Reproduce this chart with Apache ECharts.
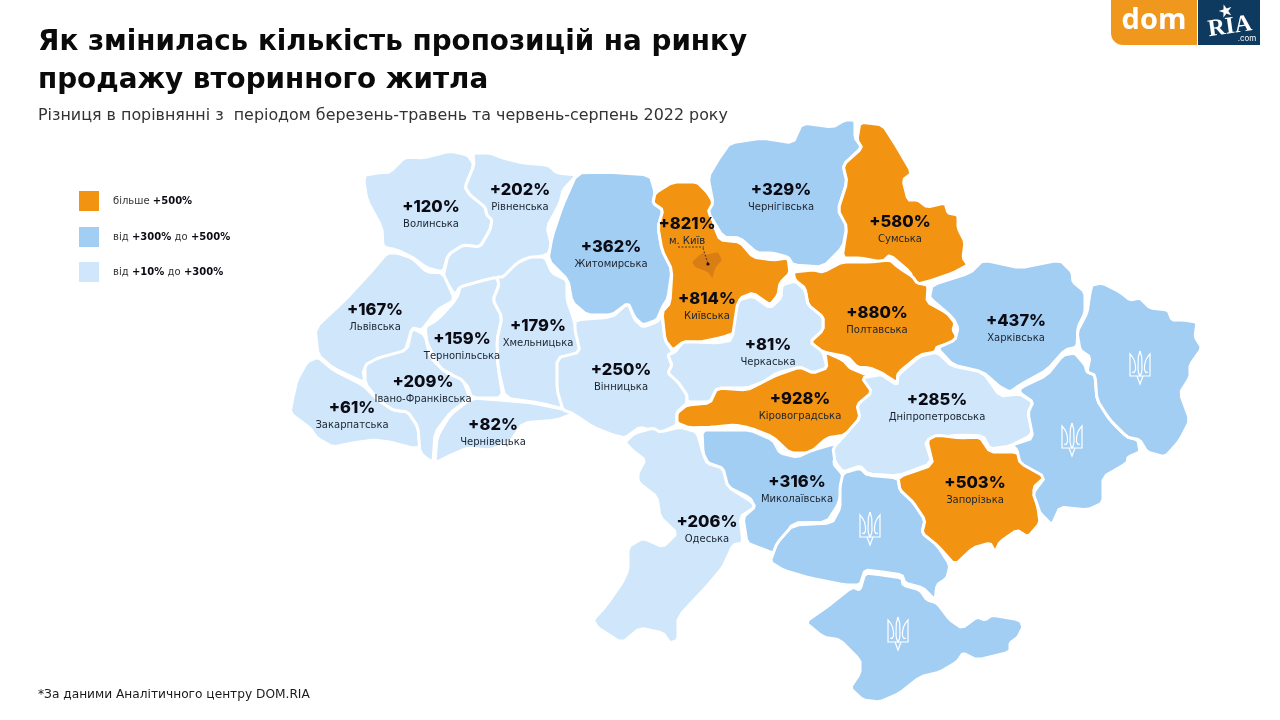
<!DOCTYPE html>
<html><head><meta charset="utf-8">
<style>html,body{margin:0;padding:0;background:#fff}#c{width:1280px;height:720px}</style>
<script src="https://cdn.jsdelivr.net/npm/echarts@6/dist/echarts.min.js"></script>
</head><body><div id="c"></div>
<script>
// ---- chart values ----
const regionNames = ['Волинська','Рівненська','Житомирська','Чернігівська','Київська','Сумська','Львівська','Тернопільська','Хмельницька','Вінницька','Черкаська','Полтавська','Харківська','Дніпропетровська','Кіровоградська','Івано-Франківська','Закарпатська','Чернівецька','Одеська','Миколаївська','Запорізька','м. Київ'];
const regionValues = [120,202,362,329,814,580,167,159,179,250,81,880,437,285,928,209,61,82,206,316,503,821];
const noDataRegions = ['Луганська','Донецька','Херсонська','АР Крим'];
const legendLabels = ['{a|більше} {b|+500%}','{a|від} {b|+300%} {a|до} {b|+500%}','{a|від} {b|+10%} {a|до} {b|+300%}'];
const titleText = 'Як змінилась кількість пропозицій на ринку\nпродажу вторинного житла';
const subtitleText = 'Різниця в порівнянні з  періодом березень-травень та червень-серпень 2022 року';
const footnoteText = '*За даними Аналітичного центру DOM.RIA';

// ---- map geometry (map units) ----
const outlines = {
'Волинська':[[364,182],[365,175],[378,173],[390,172],[405,157],[423,158],[450,151],[468,155],[474,165],[465,187],[470,195],[485,207],[487,215],[492,220],[490,230],[480,247],[463,245],[448,255],[443,272],[427,268],[412,257],[397,250],[383,247],[382,228],[367,200]],
'Рівненська':[[473,153],[490,153],[503,158],[523,163],[548,165],[557,173],[577,175],[563,190],[560,203],[547,227],[552,247],[547,255],[520,260],[512,277],[498,278],[477,283],[460,287],[455,295],[443,277],[448,255],[463,245],[480,247],[490,230],[492,220],[487,215],[485,207],[470,195],[465,187],[474,165]],
'Львівська':[[387,253],[397,253],[412,258],[427,272],[443,273],[455,300],[437,310],[422,330],[412,328],[405,352],[378,358],[363,370],[365,383],[333,368],[318,355],[315,328],[345,300],[370,273]],
'Тернопільська':[[460,287],[477,282],[497,277],[499,285],[493,300],[502,317],[497,340],[498,367],[503,398],[472,398],[467,385],[453,375],[440,368],[427,343],[425,327],[437,320],[453,303],[458,295]],
'Хмельницька':[[497,277],[503,277],[517,263],[530,257],[545,257],[552,273],[567,280],[567,300],[573,317],[583,352],[560,363],[558,387],[567,410],[540,403],[505,398],[498,367],[497,340],[502,317],[493,300],[499,285]],
'Закарпатська':[[318,357],[333,370],[363,385],[378,400],[393,410],[408,412],[418,427],[420,447],[413,448],[390,442],[373,440],[353,443],[333,447],[317,438],[310,428],[290,413],[293,397],[297,380],[307,362]],
'Івано-Франківська':[[365,365],[378,358],[407,350],[412,328],[425,335],[430,357],[445,372],[463,380],[470,398],[450,413],[435,433],[433,463],[420,453],[418,427],[408,412],[393,410],[378,400],[365,383]],
'Чернівецька':[[472,398],[500,400],[533,403],[567,410],[577,412],[557,420],[523,423],[510,442],[490,450],[467,448],[447,457],[435,463],[437,437],[450,415]],
'Житомирська':[[577,173],[607,172],[650,175],[655,192],[653,203],[663,210],[658,227],[662,250],[672,270],[668,298],[662,308],[657,320],[643,325],[635,318],[628,303],[612,315],[587,315],[572,302],[568,280],[548,260],[552,237],[562,207]],
'Вінницька':[[575,320],[612,317],[628,303],[635,320],[643,327],[657,322],[662,315],[665,340],[673,352],[668,355],[672,365],[668,373],[678,382],[687,395],[687,403],[677,412],[677,425],[660,433],[640,427],[625,438],[613,435],[593,427],[572,413],[563,410],[557,390],[557,358],[580,352],[575,330]],
'Київська':[[655,193],[673,182],[697,182],[707,192],[715,205],[713,223],[720,240],[740,242],[753,257],[773,260],[788,258],[790,273],[780,283],[778,295],[770,305],[753,293],[740,298],[735,333],[720,338],[700,342],[683,342],[673,350],[665,340],[662,312],[670,303],[672,270],[662,250],[658,227],[663,210],[653,203]],
'Чернігівська':[[730,143],[762,138],[793,143],[802,123],[833,127],[845,120],[855,120],[855,138],[862,147],[843,165],[847,182],[838,210],[847,225],[843,247],[823,267],[793,265],[788,257],[772,253],[757,253],[740,238],[723,237],[708,212],[713,203],[708,177],[720,157]],
'Сумська':[[860,122],[883,125],[897,147],[912,173],[903,180],[908,200],[918,200],[927,207],[945,203],[948,213],[958,215],[958,228],[965,242],[963,258],[968,265],[953,273],[933,280],[915,285],[910,272],[890,255],[882,262],[860,258],[842,258],[847,227],[838,210],[847,182],[843,165],[862,148],[857,140]],
'Полтавська':[[793,272],[813,270],[823,272],[842,262],[870,262],[890,260],[898,267],[913,277],[917,283],[928,285],[927,302],[947,313],[955,323],[953,330],[957,337],[952,343],[937,347],[935,352],[920,355],[898,373],[897,383],[882,373],[870,368],[857,367],[848,357],[823,352],[810,342],[823,330],[823,317],[808,305],[805,288],[795,280]],
'Черкаська':[[738,300],[753,296],[770,308],[781,298],[782,285],[795,281],[805,290],[808,305],[823,317],[823,330],[810,342],[823,352],[827,368],[812,373],[800,367],[777,373],[763,382],[747,388],[717,388],[710,402],[687,402],[687,395],[678,382],[668,373],[672,365],[668,355],[675,352],[683,342],[697,342],[717,343],[732,340]],
'Кіровоградська':[[677,413],[687,405],[710,403],[717,388],[747,390],[763,382],[777,375],[800,367],[813,373],[827,368],[825,352],[843,360],[850,368],[867,375],[878,373],[863,378],[873,392],[858,405],[860,418],[845,435],[827,438],[810,453],[790,453],[773,437],[750,428],[735,425],[713,427],[690,428],[677,423]],
'Одеська':[[625,442],[635,433],[653,428],[660,432],[680,427],[697,432],[703,453],[707,463],[723,468],[728,487],[752,502],[755,507],[740,517],[743,543],[733,545],[723,567],[708,585],[678,617],[678,640],[670,643],[663,633],[640,628],[622,643],[598,628],[593,620],[605,607],[622,583],[628,570],[628,547],[643,538],[663,547],[677,533],[660,517],[657,497],[638,482],[638,473],[645,460],[632,450]],
'Миколаївська':[[702,430],[723,430],[750,430],[773,440],[780,453],[797,457],[813,450],[837,443],[840,450],[833,463],[843,475],[843,487],[838,505],[827,522],[793,523],[780,545],[773,553],[760,548],[747,543],[743,517],[755,507],[750,498],[728,487],[723,468],[708,463],[703,453]],
'Херсонська':[[770,562],[777,543],[793,525],[832,523],[840,508],[840,487],[843,473],[860,468],[867,475],[898,478],[900,490],[913,502],[925,520],[922,533],[937,545],[950,565],[947,578],[937,585],[935,600],[923,588],[905,583],[902,575],[883,572],[865,570],[860,585],[845,585],[810,578],[783,570]],
'АР Крим':[[805,622],[827,607],[852,587],[860,590],[865,573],[883,575],[902,578],[903,585],[920,590],[927,600],[937,603],[950,620],[962,628],[977,617],[985,620],[992,615],[1020,620],[1023,627],[1018,637],[1010,643],[1010,652],[977,660],[963,653],[957,662],[940,672],[920,677],[900,693],[880,702],[863,700],[850,688],[860,673],[860,660],[840,640],[823,637]],
'Дніпропетровська':[[862,378],[872,392],[857,405],[860,418],[845,435],[833,448],[835,462],[843,472],[860,466],[868,474],[898,476],[932,463],[925,440],[957,435],[983,436],[990,449],[1010,446],[1030,436],[1034,426],[1028,413],[1033,402],[1020,394],[1000,396],[983,372],[952,366],[937,352],[920,356],[898,375],[897,385],[882,375],[878,375]],
'Запорізька':[[927,440],[937,435],[960,438],[980,437],[990,452],[1017,452],[1022,462],[1047,475],[1033,488],[1038,508],[1040,523],[1028,537],[1017,530],[1000,542],[995,552],[990,543],[973,548],[955,565],[937,545],[922,533],[925,520],[913,502],[900,490],[898,477],[933,465]],
'Харківська':[[930,295],[932,285],[970,273],[983,260],[1020,268],[1060,260],[1072,272],[1073,282],[1085,292],[1085,313],[1078,327],[1077,347],[1065,350],[1047,370],[1020,385],[1010,392],[1000,387],[983,372],[953,365],[937,348],[955,340],[958,328],[953,318],[930,298]],
'Донецька':[[1020,388],[1047,375],[1063,355],[1075,353],[1085,365],[1087,372],[1095,375],[1097,400],[1110,420],[1127,437],[1138,440],[1140,452],[1128,457],[1127,463],[1103,477],[1103,503],[1087,510],[1060,507],[1052,525],[1040,513],[1038,507],[1033,493],[1045,477],[1020,463],[1017,450],[1012,445],[1033,438],[1028,413],[1033,402],[1020,393]],
'Луганська':[[1090,293],[1092,285],[1102,283],[1120,292],[1130,300],[1140,298],[1150,308],[1168,310],[1172,320],[1183,320],[1197,322],[1195,337],[1202,348],[1190,365],[1190,377],[1180,393],[1190,420],[1180,440],[1165,457],[1147,452],[1140,440],[1127,437],[1110,420],[1097,400],[1095,375],[1087,372],[1090,357],[1080,350],[1077,332],[1087,313]],
'м. Київ':[[692,262],[703,252],[705,255],[718,252],[722,260],[715,268],[712,280],[708,272],[695,267]]
};
const labelAnchors = {
'Волинська':[431,214],'Рівненська':[520,197],'Житомирська':[611,254],'Чернігівська':[781,197],'Київська':[707,306],'м. Київ':[687,231],'Сумська':[900,229],'Львівська':[375,317],'Тернопільська':[462,346],'Хмельницька':[538,333],'Вінницька':[621,377],'Черкаська':[768,352],'Полтавська':[877,320],'Харківська':[1016,328],'Дніпропетровська':[937,407],'Кіровоградська':[800,406],'Івано-Франківська':[423,389],'Закарпатська':[352,415],'Чернівецька':[493,432],'Одеська':[707,529],'Миколаївська':[797,489],'Запорізька':[975,490]
};
const tridentSpots = [[1140,368],[1072,440],[870,529],[898,634]];

const ORANGE='#F29312', MID='#A3CEF4', LIGHT='#D0E6FA', CITY='#D97E14', INK='#0B0B14';
const FONT='"DejaVu Sans"';

const CUT=0.14;
function smooth(pts){
  const out=[]; const n=pts.length;
  for(let i=0;i<n;i++){
    const a=pts[i], b=pts[(i+1)%n];
    out.push([a[0]*(1-CUT)+b[0]*CUT,a[1]*(1-CUT)+b[1]*CUT]);
    out.push([a[0]*CUT+b[0]*(1-CUT),a[1]*CUT+b[1]*(1-CUT)]);
  }
  return out;
}
const drawOrder = Object.keys(outlines);
const geoJson = {type:'FeatureCollection',features:drawOrder.map(name=>{
  let ring=smooth(outlines[name]); ring=ring.concat([ring[0]]);
  return {type:'Feature',properties:{name:name,cp:labelAnchors[name]||ring[0]},geometry:{type:'Polygon',coordinates:[ring]}};
})};
echarts.registerMap('ua',geoJson);

const seriesData = regionNames.map((n,i)=>({
  name:n,value:regionValues[i],
  itemStyle:n==='м. Київ'?{borderWidth:0}:undefined
}));

const tridentStrokes=[
 [[11,0],[9.3,6],[9,18],[9.6,22],[11,25],[12.4,22],[13,18],[12.7,6],[11,0]],
 [[3,21],[5,21.5],[6.5,19],[6.5,15],[5.5,10],[3.5,6],[1,3],[1,25],[21,25],[21,3],[18.5,6],[16.5,10],[15.5,15],[15.5,19],[17,21.5],[19,21]],
 [[8,25],[11,33],[14,25]]
];
const g=[];
tridentSpots.forEach(p=>g.push({type:'group',x:p[0]-11,y:p[1]-17,silent:true,children:tridentStrokes.map(s=>({type:'polyline',z:100,silent:true,shape:{points:s},style:{fill:'none',stroke:'#fff',lineWidth:1.2}}))}));
// Kyiv leader
g.push({type:'line',z:100,silent:true,shape:{x1:678,y1:247,x2:704,y2:247},style:{stroke:'#222',lineWidth:0.8,lineDash:[2,1.5]}});
g.push({type:'line',z:100,silent:true,shape:{x1:703,y1:248,x2:708,y2:264},style:{stroke:'#222',lineWidth:0.8,lineDash:[2,1.5]}});
g.push({type:'circle',z:100,silent:true,shape:{cx:708,cy:264,r:1.6},style:{fill:'#111'}});
// legend
[ORANGE,MID,LIGHT].forEach((c,i)=>{
  const y=[191,227,262][i];
  g.push({type:'rect',z:100,silent:true,shape:{x:79,y:y,width:20,height:20},style:{fill:c}});
  g.push({type:'text',z:100,silent:true,style:{x:113,y:y+10,text:legendLabels[i],verticalAlign:'middle',rich:{
    a:{fontFamily:FONT,fontSize:10,fill:'#333'},
    b:{fontFamily:FONT,fontSize:10,fontWeight:700,fill:INK}}}});
});
// logo
g.push({type:'rect',z:100,silent:true,shape:{x:1111,y:0,width:86,height:45,r:[0,0,0,12]},style:{fill:'#F0981E'}});
g.push({type:'text',z:101,silent:true,style:{x:1154,y:21,text:'dom',fill:'#fff',font:'700 29px "Open Sans"',align:'center',verticalAlign:'middle'}});
g.push({type:'rect',z:100,silent:true,shape:{x:1198,y:0,width:62,height:45},style:{fill:'#0F3A5F'}});
g.push({type:'text',z:101,silent:true,x:1230,y:27,rotation:0.14,style:{x:0,y:0,text:'RIA',fill:'#fff',font:'900 24px "Liberation Serif"',align:'center',verticalAlign:'middle'}});
g.push({type:'text',z:101,silent:true,x:1226,y:12,rotation:0.3,style:{x:0,y:0,text:'★',fill:'#fff',font:'17px "DejaVu Sans"',align:'center',verticalAlign:'middle'}});
g.push({type:'text',z:101,silent:true,style:{x:1247,y:39,text:'.com',fill:'#fff',font:'8px Inter',align:'center',verticalAlign:'middle'}});
// footnote
g.push({type:'text',z:100,silent:true,style:{x:38,y:695,text:footnoteText,fill:'#1a1a1a',font:'12.2px "DejaVu Sans"',verticalAlign:'middle'}});

const chart=echarts.init(document.getElementById('c'));
chart.setOption({
  animation:false,
  backgroundColor:'#fff',
  title:{left:38,top:24,text:titleText,
    textStyle:{fontFamily:FONT,fontSize:27.8,fontWeight:700,color:'#0A0A0A',lineHeight:38},
    subtext:subtitleText,subtextStyle:{fontFamily:FONT,fontSize:15.9,color:'#333',lineHeight:20},itemGap:6,padding:0},
  visualMap:{show:false,type:'piecewise',seriesIndex:0,dimension:0,
    pieces:[{gt:821,color:ORANGE},{value:821,color:CITY},{gte:500,lt:821,color:ORANGE},{gte:300,lt:500,color:MID},{gte:10,lt:300,color:LIGHT}]},
  graphic:g,
  series:[{
    type:'map',map:'ua',silent:true,roam:false,
    projection:{project:p=>p,unproject:p=>p},
    aspectScale:1,
    boundingCoords:[[0,0],[1280,720]],
    left:0,top:0,width:1280,height:720,
    selectedMode:false,
    itemStyle:{areaColor:MID,borderColor:'#fff',borderWidth:3,borderJoin:'round'},
    emphasis:{disabled:true},
    label:{show:true,color:INK,lineHeight:16,
      formatter:p=>isNaN(p.value)?'':'{v|+'+p.value+'%}\n{n|'+p.name+'}',
      rich:{v:{fontFamily:'Inter',fontSize:16.5,fontWeight:800,color:INK,lineHeight:20},
            n:{fontFamily:FONT,fontSize:10,fontWeight:400,color:'#1A2430',lineHeight:14}}},
    labelLayout:{hideOverlap:false},
    data:seriesData
  }]
});
</script></body></html>
